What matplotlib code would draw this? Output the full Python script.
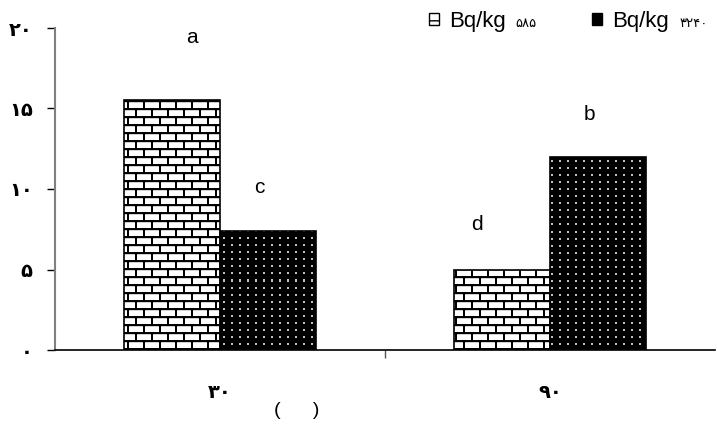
import numpy as np
import matplotlib
matplotlib.use('Agg')
import matplotlib.pyplot as plt
from matplotlib.patches import Patch

plt.rcParams['font.family'] = ['Liberation Sans', 'DejaVu Sans']

# داده‌ها
groups = ['۳۰', '۹۰']
series_units = ['Bq/kg', 'Bq/kg']
series_doses = ['۵۸۵', '۳۲۴۰']
values_585 = [15.5, 5.0]
values_3240 = [7.4, 12.0]
letters_585 = ['a', 'd']
letters_3240 = ['c', 'b']
yticks = [0, 5, 10, 15, 20]
ytick_labels = ['۰', '۵', '۱۰', '۱۵', '۲۰']
x_title = '(      )'

# محل حروف نسبت به ستون‌ها
letter_dx_585 = [0.06, -0.075]
letter_dx_3240 = [-0.027, -0.025]
letter_dy_585 = [3.9, 2.8]
letter_dy_3240 = [2.7, 2.6]


def brick_texture(h, w, row=8, brick=16):
    yy, xx = np.mgrid[0:h, 0:w]
    t = np.ones((h, w))
    t[(yy % row) == 2] = 0.8
    shift = ((yy // row) % 2) * (brick // 2)
    t[((xx + shift) % brick) < 2] = 0.0
    t[(yy % row) < 2] = 0.0
    return t


def dot_texture(h, w, dx=8, dy=7):
    yy, xx = np.mgrid[0:h, 0:w]
    t = np.zeros((h, w))
    t[((yy % dy) < 2) & ((xx % dx) < 2)] = 0.75
    return t


fig = plt.figure(figsize=(7.17, 4.30), dpi=100)
ax = fig.add_axes([55 / 717, 1 - 350 / 430, 660 / 717, 322 / 430])

x = np.arange(len(groups))
width = 0.29
xlim = (-0.5, 1.5)
ylim = (0, 20)

bars1 = ax.bar(x - width / 2, values_585, width, facecolor='none',
               edgecolor='black', linewidth=1.2, zorder=3)
bars2 = ax.bar(x + width / 2, values_3240, width, facecolor='none',
               edgecolor='black', linewidth=1.2, zorder=3)

# بافت آجری و نقطه‌ای داخل ستون‌ها
H, W = 322, 660
tex1 = brick_texture(H, W)
tex2 = dot_texture(H, W)
for bars, tex in [(bars1, tex1), (bars2, tex2)]:
    for b in bars:
        im = ax.imshow(tex, extent=(xlim[0], xlim[1], ylim[0], ylim[1]),
                       aspect='auto', interpolation='nearest', cmap='gray',
                       vmin=0, vmax=1, zorder=2)
        im.set_clip_path(b)

ax.set_xlim(*xlim)
ax.set_ylim(*ylim)

# حروف معنی‌داری
for i in range(len(groups)):
    ax.text(x[i] - width / 2 + letter_dx_585[i], values_585[i] + letter_dy_585[i],
            letters_585[i], ha='center', va='center', fontsize=15)
    ax.text(x[i] + width / 2 + letter_dx_3240[i], values_3240[i] + letter_dy_3240[i],
            letters_3240[i], ha='center', va='center', fontsize=15)

# محورها
for s in ['top', 'right']:
    ax.spines[s].set_visible(False)
ax.spines['left'].set_color('#808080')
ax.spines['left'].set_linewidth(1.5)
ax.spines['bottom'].set_color('black')
ax.spines['bottom'].set_linewidth(1.2)

ax.set_yticks(yticks)
ax.set_yticklabels(ytick_labels, fontsize=14, fontweight='bold',
                   family=['DejaVu Sans'])
ax.tick_params(axis='y', length=6, width=1, color='black', pad=10)

ax.set_xticks(x)
ax.set_xticklabels(groups, fontsize=14, fontweight='bold', family=['DejaVu Sans'])
ax.set_xticks([0.5], minor=True)
ax.tick_params(axis='x', which='major', length=0, pad=24)
ax.tick_params(axis='x', which='minor', length=6, width=1, color='#555555')

ax.text(0.233, -0.188, x_title, transform=ax.get_xaxis_transform(),
        ha='center', va='center', fontsize=14)

# راهنما
handles = [Patch(facecolor='white', edgecolor='black', hatch='--', linewidth=1),
           Patch(facecolor='black', edgecolor='black', linewidth=1)]
leg = fig.legend(handles, series_units, loc='upper left',
                 bbox_to_anchor=(429 / 717, 1 - 11 / 430), ncol=2, frameon=False,
                 fontsize=16, handlelength=0.45, handleheight=0.45,
                 handletextpad=0.45, columnspacing=3.9, borderpad=0,
                 borderaxespad=0)

# اعداد کوچک کنار واحدها
fig.canvas.draw()
for t, dose in zip(leg.get_texts(), series_doses):
    bb = t.get_window_extent()
    fig.text((bb.x1 + 10) / fig.bbox.width, (bb.y0 + 5) / fig.bbox.height,
             dose, ha='left', va='baseline', fontsize=9.5, family=['DejaVu Sans'])

fig.savefig('out.png', dpi=100)
